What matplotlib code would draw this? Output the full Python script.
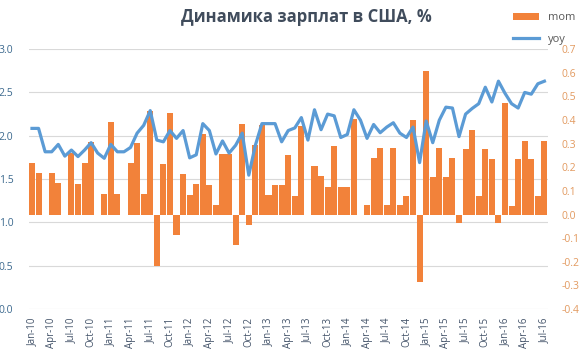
import matplotlib
matplotlib.use("Agg")
import matplotlib.pyplot as plt
import numpy as np
import pandas as pd

# monthly data Jan-10 .. Jul-16
months = pd.date_range("2010-01-01", "2016-07-01", freq="MS")
month_labels = [d.strftime("%b-%y") for d in months]

mom = [0.22, 0.175, 0.0, 0.175, 0.133, 0.0, 0.262, 0.128, 0.217, 0.307,
       0.0, 0.085, 0.39, 0.085, 0.0, 0.217, 0.303, 0.085, 0.44, -0.218,
       0.213, 0.43, -0.087, 0.171, 0.082, 0.128, 0.341, 0.124, 0.04, 0.255,
       0.255, -0.13, 0.384, -0.045, 0.293, 0.378, 0.082, 0.124, 0.124, 0.251,
       0.08, 0.374, 0.0, 0.205, 0.162, 0.117, 0.289, 0.117, 0.117, 0.406,
       0.0, 0.04, 0.241, 0.283, 0.04, 0.283, 0.04, 0.078, 0.402, -0.284,
       0.607, 0.16, 0.283, 0.16, 0.24, -0.037, 0.277, 0.357, 0.08, 0.277,
       0.235, -0.037, 0.473, 0.036, 0.235, 0.311, 0.235, 0.08, 0.311]

yoy = [2.085, 2.085, 1.815, 1.815, 1.90, 1.765, 1.835, 1.76, 1.835, 1.92,
       1.80, 1.74, 1.90, 1.815, 1.815, 1.865, 2.03, 2.12, 2.29, 1.95,
       1.93, 2.06, 1.97, 2.06, 1.745, 1.78, 2.14, 2.06, 1.79, 1.94,
       1.80, 1.89, 2.03, 1.545, 1.89, 2.14, 2.14, 2.14, 1.93, 2.06,
       2.09, 2.21, 1.95, 2.30, 2.07, 2.25, 2.23, 1.98, 2.015, 2.30,
       2.18, 1.97, 2.13, 2.035, 2.10, 2.15, 2.03, 1.98, 2.10, 1.69,
       2.17, 1.92, 2.18, 2.33, 2.32, 1.99, 2.25, 2.315, 2.37, 2.56,
       2.39, 2.63, 2.49, 2.37, 2.32, 2.50, 2.48, 2.60, 2.63]

left_ticks = [0.0, 0.5, 1.0, 1.5, 2.0, 2.5, 3.0]
right_ticks = [-0.4, -0.3, -0.2, -0.1, 0.0, 0.1, 0.2, 0.3, 0.4, 0.5, 0.6, 0.7]

plt.rcParams['font.family'] = ['Open Sans', 'DejaVu Sans']

fig = plt.figure(figsize=(5.81, 3.56), dpi=100)
ax = fig.add_axes([0.0494, 0.132, 0.8933, 0.730])
ax_m = ax.twinx()
ax.set_zorder(ax_m.get_zorder() + 1)
ax.patch.set_visible(False)

x = np.arange(len(months))
y_lo, y_hi = 0.0, 3.0
m_lo, m_hi = -0.4, 0.7

# grid lines of the left axis, drawn behind the bars
for t in left_ticks:
    ax_m.axhline(m_lo + (t - y_lo) / (y_hi - y_lo) * (m_hi - m_lo),
                 color='#d9d9d9', lw=0.8, zorder=0)

ax_m.bar(x, mom, width=0.92, color='#f2823a', label='mom', zorder=2)
ax.plot(x, yoy, color='#5b9bd5', lw=2.3, label='yoy', solid_joinstyle='round')

ax.set_xlim(-0.5, len(months) - 0.5)
ax.set_ylim(y_lo, y_hi)
ax_m.set_ylim(m_lo, m_hi)

ax.set_yticks(left_ticks)
ax.set_yticklabels([f"{t:.1f}" for t in left_ticks], fontsize=7.5, color='#3d6a8f')
ax_m.set_yticks(right_ticks)
ax_m.set_yticklabels([f"{t:.1f}" for t in right_ticks], fontsize=7.5, color='#e29a60')

ax.set_xticks(x[::3])
ax.set_xticklabels(month_labels[::3], rotation=90, fontsize=7, color='#44546a')

for a in (ax, ax_m):
    for s in a.spines.values():
        s.set_visible(False)
    a.tick_params(length=0)
ax.tick_params(axis='y', pad=11)
ax_m.tick_params(axis='y', pad=10)
ax.tick_params(axis='x', pad=6)

fig.text(0.527, 0.952, 'Динамика зарплат в США, %', ha='center', va='center',
         fontsize=12, fontweight='bold', color='#404c5c')

h1, l1 = ax_m.get_legend_handles_labels()
h2, l2 = ax.get_legend_handles_labels()
leg = fig.legend(h1 + h2, l1 + l2, loc='upper right', bbox_to_anchor=(1.005, 0.99),
                 frameon=False, fontsize=8, handlelength=2.3, handleheight=0.5,
                 labelspacing=0.95, labelcolor='#595959', borderaxespad=0.4)

fig.savefig('out.png', dpi=100)
